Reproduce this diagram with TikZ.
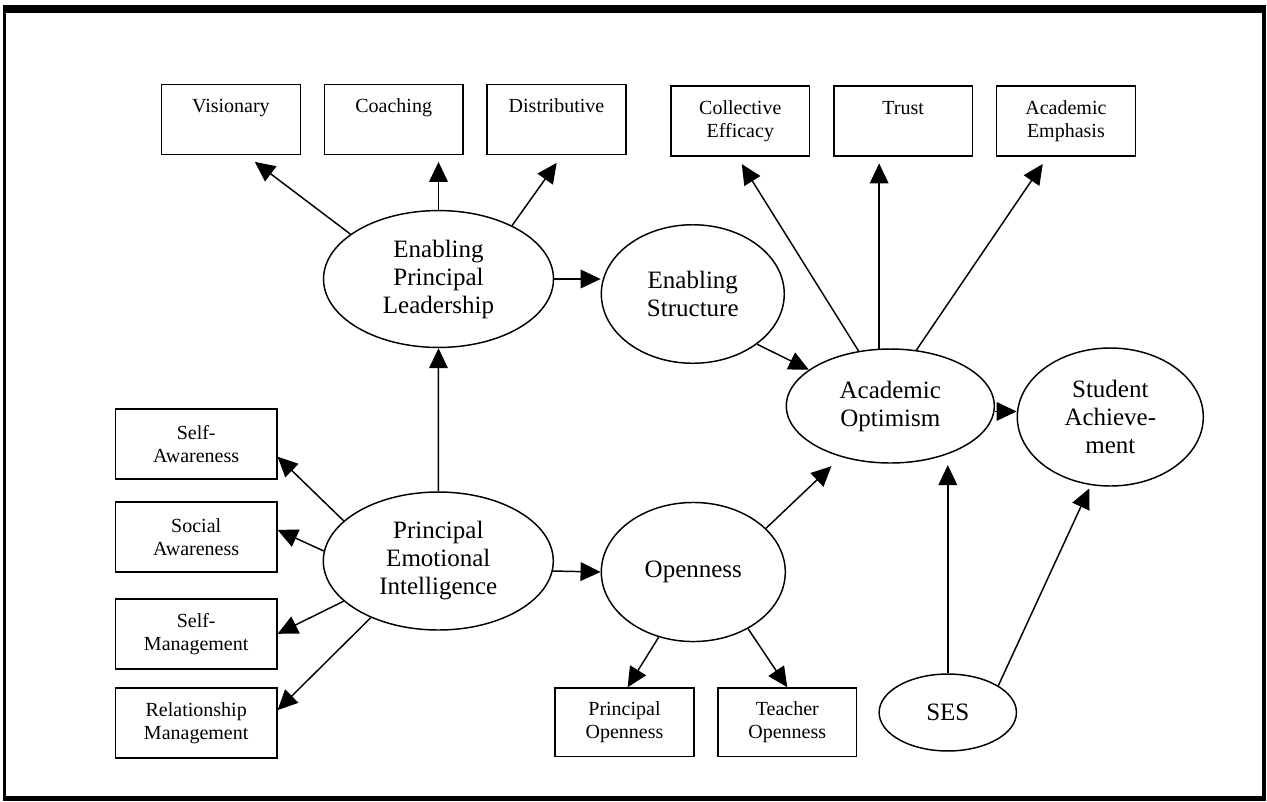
\documentclass[tikz,border=0pt]{standalone}
\usepackage{fontspec}
\setmainfont{Liberation Serif}
\usetikzlibrary{positioning}
\usetikzlibrary{shapes.geometric}
\usetikzlibrary{arrows.meta}

\begin{document}
\begin{tikzpicture}[x=0.75pt, y=-0.75pt, line width=1.1pt, node distance=17pt,
  >={Triangle[length=15pt, width=14pt]},
  box/.style={draw, rectangle, minimum width=104pt, minimum height=52.5pt, inner sep=0pt, align=center, font=\fontsize{15}{17.25}\selectfont},
  wide/.style={box, minimum width=121pt},
  oneline/.style={text height=10.5pt, text depth=21pt},
  latent/.style={draw, ellipse, inner sep=0pt, align=center, font=\fontsize{18.75}{21}\selectfont},
  gap/.style={shorten >=#1}]

  \useasboundingbox (0,0) rectangle (1267,801);
  \fill (2.7,5) rectangle (1265.7,801);
  \fill [white] (5.7,13) rectangle (1262.3,796);

  \node [latent, minimum width=172.5pt, minimum height=102.7pt] (epl) at (438.5,279) {Enabling\\Principal\\Leadership};
  \node [latent, minimum width=137.2pt, minimum height=103.9pt] (es) at (692.8,294) {Enabling\\Structure};
  \node [latent, minimum width=172.5pt, minimum height=103.5pt] (pei) at (438.3,561) {Principal\\Emotional\\Intelligence};
  \node [latent, minimum width=138pt, minimum height=104.3pt] (open) at (693.3,572) {Openness};
  \node [latent, minimum width=156pt, minimum height=85.5pt] (ao) at (890.3,406) {Academic\\Optimism};
  \node [latent, minimum width=139.5pt, minimum height=103.5pt] (sa) at (1110.3,417) {Student\\Achieve-\\ment};
  \node [latent, minimum width=103pt, minimum height=57.7pt] (ses) at (947.8,712.5) {SES};

  \node [box, oneline] (vis) at (230.9,119.5) {Visionary};
  \node [box, oneline, right=of vis] (coach) {Coaching};
  \node [box, oneline, right=of coach] (distr) {Distributive};

  \node [box] (effic) at (740.3,121) {Collective\\Efficacy};
  \node [box, oneline, right=of effic] (trust) {Trust};
  \node [box, right=of trust] (emph) {Academic\\Emphasis};

  \node [wide] (selfaw) at (196.2,443.8) {Self-\\Awareness};
  \node [wide, below=16.3pt of selfaw] (socaw) {Social\\Awareness};
  \node [wide, below=19pt of socaw] (selfman) {Self-\\Management};
  \node [wide, below=13.3pt of selfman] (relman) {Relationship\\Management};

  \node [box, minimum height=51.4pt] (popen) at (624.5,722.3) {Principal\\Openness};
  \node [box, minimum height=51.4pt, right=of popen] (topen) {Teacher\\Openness};

  \draw [->, gap=8.2pt] (epl.153) -- (vis.-67);
  \draw [->, gap=5pt] (epl.north) -- (epl.north |- coach.south);
  \draw [->, gap=7pt] (epl.36.5) -- (distr.-81);
  \draw [->] (epl.east) -- (epl.east -| es.west);
  \draw [->] (pei.north) -- (epl.south);

  \draw [->] (pei.157) -- (selfaw.-9);
  \draw [->] (pei.175) -- (socaw.5);
  \draw [->] (pei.203) -- (selfman.east);
  \draw [->] (pei.220) -- (relman.9);
  \draw [->] (pei.-5) -- (open.west);

  \draw [->] (open.-118) -- (popen.85);
  \draw [->] (open.-46.5) -- (topen.north);
  \draw [->, gap=10pt] (open.31) -- (ao.226.5);
  \draw [->] (es.-38) -- (ao.156);

  \draw [->, gap=6.5pt] (ao.120.7) -- (effic.-95);
  \draw [->, gap=5pt] (ao.101) -- (ao.101 |- trust.south);
  \draw [->, gap=6.6pt] (ao.65) -- (emph.-117);
  \draw [->] (ao.-3) -- (ao.-3 -| sa.west);

  \draw [->, gap=1pt] (ses.north) -- (ses.north |- ao.south);
  \draw [->, gap=2.7pt] (ses.28) -- (sa.-106.5);
\end{tikzpicture}
\end{document}
